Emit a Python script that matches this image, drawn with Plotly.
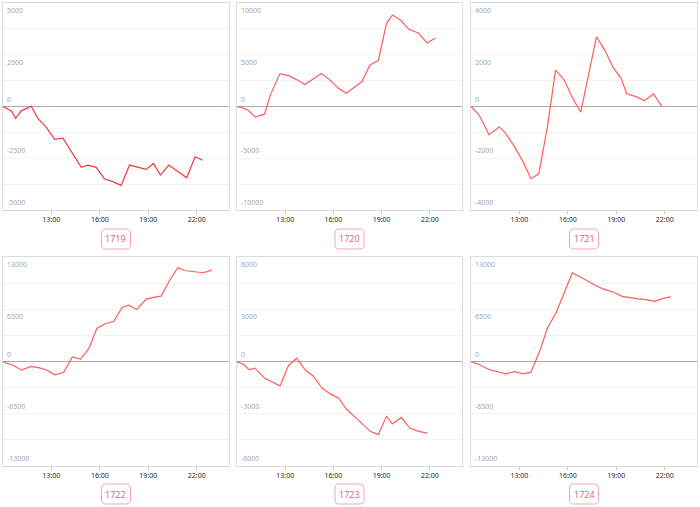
import plotly.graph_objects as go

names = ["1719", "1720", "1721", "1722", "1723", "1724"]
limits = [5000, 10000, 4000, 13000, 6000, 13000]
tick_vals = [13, 16, 19, 22]
tick_text = ["13:00", "16:00", "19:00", "22:00"]

# times in decimal hours
t1719 = [10.0, 10.52, 10.78, 11.13, 11.75, 12.16, 12.68, 13.2, 13.71, 14.85, 15.26, 15.77, 16.29,
         16.8, 17.32, 17.84, 18.87, 19.32, 19.75, 20.27, 21.38, 21.9, 22.37]
v1719 = [0, -210, -580, -210, 10, -580, -1010, -1590, -1530, -2940, -2830, -2940, -3500,
         -3630, -3810, -2830, -3040, -2750, -3310, -2830, -3440, -2430, -2600]

t1720 = [10.0, 10.41, 10.72, 11.13, 11.71, 12.1, 12.67, 13.19, 13.7, 14.22, 15.25, 15.76, 16.28,
         16.79, 17.3, 17.78, 18.27, 18.79, 19.3, 19.67, 20.19, 20.7, 21.28, 21.83, 22.35]
v1720 = [0, -160, -390, -1030, -740, 1220, 3180, 2990, 2600, 2120, 3180, 2600, 1800,
         1290, 1860, 2410, 4020, 4440, 8010, 8840, 8330, 7460, 7110, 6140, 6620]

t1721 = [10.0, 10.49, 10.76, 11.11, 11.75, 12.14, 12.68, 13.24, 13.71, 14.2, 14.74, 15.24, 15.77,
         16.27, 16.8, 17.3, 17.77, 18.29, 18.8, 19.3, 19.65, 20.23, 20.74, 21.3, 21.83]
v1721 = [0, -320, -640, -1090, -790, -1030, -1540, -2150, -2790, -2600, -770, 1410, 1030,
         360, -220, 1320, 2690, 2180, 1510, 1090, 490, 380, 220, 490, 0]

t1722 = [10.0, 10.66, 11.13, 11.75, 12.27, 12.74, 13.2, 13.75, 14.29, 14.8, 15.32, 15.81, 16.35,
         16.85, 17.38, 17.79, 18.29, 18.87, 19.32, 19.79, 20.31, 20.82, 21.34, 22.41, 22.95]
v1722 = [-40, -500, -1080, -620, -790, -1080, -1660, -1370, 580, 290, 1620, 4110, 4730,
         4980, 6720, 7010, 6470, 7760, 7970, 8130, 10040, 11660, 11290, 11040, 11370]

t1723 = [10.0, 10.45, 10.76, 11.11, 11.75, 12.14, 12.68, 13.2, 13.71, 14.27, 14.74, 15.3, 15.81,
         16.33, 16.8, 17.3, 17.83, 18.29, 18.79, 19.3, 19.67, 20.23, 20.74, 21.32, 21.85]
v1723 = [-20, -190, -480, -380, -980, -1150, -1400, -230, 190, -520, -830, -1540, -1860,
         -2110, -2730, -3150, -3590, -4010, -4200, -3150, -3590, -3210, -3820, -4010, -4110]

t1724 = [10.0, 10.49, 11.11, 11.69, 12.16, 12.68, 13.24, 13.71, 14.27, 14.74, 15.26, 15.77, 16.27,
         16.78, 17.3, 17.81, 18.29, 18.8, 19.36, 19.84, 20.35, 20.86, 21.38, 21.9, 22.37]
v1724 = [0, -370, -1000, -1330, -1540, -1250, -1540, -1330, 1370, 4200, 6030, 8530, 11020,
         10520, 9900, 9360, 8940, 8650, 8110, 7940, 7780, 7700, 7490, 7860, 8030]

times = [t1719, t1720, t1721, t1722, t1723, t1724]
values = [v1719, v1720, v1721, v1722, v1723, v1724]
line_colors = ["#ec3a3f", "#ff5c5c", "#ff5c5c", "#ff5c5c", "#ff5c5c", "#ff5c5c"]

W, H = 700, 507
col_px = [(3, 229), (237, 462), (471, 697)]
row_px = [(3, 210), (257, 466)]
badge_y = [239, 494]

fig = go.Figure()
layout = dict(width=W, height=H, margin=dict(l=0, r=0, t=0, b=0),
              paper_bgcolor="white", plot_bgcolor="white", showlegend=False,
              font=dict(family="Noto Sans, Open Sans, sans-serif"))
annotations = []
shapes = []

for i in range(6):
    r, c = divmod(i, 3)
    sfx = "" if i == 0 else str(i + 1)
    xa, ya = "x" + sfx, "y" + sfx
    fig.add_trace(go.Scatter(x=times[i], y=values[i], mode="lines", xaxis=xa, yaxis=ya,
                             line=dict(color=line_colors[i], width=1.2), hoverinfo="skip"))
    x0, x1 = col_px[c]
    y0, y1 = row_px[r]
    L = limits[i]
    layout["xaxis" + sfx] = dict(domain=[x0 / W, x1 / W], anchor=ya, range=[10, 24],
                                 tickvals=tick_vals, ticktext=tick_text, showgrid=False,
                                 zeroline=False, showline=True, mirror=True, linecolor="#dcdcdc",
                                 linewidth=1, ticks="outside", ticklen=3, tickcolor="#cccccc",
                                 tickfont=dict(size=7, color="#2a2a2a"), fixedrange=True)
    grid_vals = [L * k / 4 for k in range(-4, 5)]
    layout["yaxis" + sfx] = dict(domain=[1 - y1 / H, 1 - y0 / H], anchor=xa, range=[-L, L],
                                 tickvals=grid_vals, showticklabels=False, showgrid=True,
                                 gridcolor="#f3f3f3", gridwidth=1, zeroline=True,
                                 zerolinecolor="#aaaaaa", zerolinewidth=1, showline=True,
                                 mirror=True, linecolor="#dcdcdc", linewidth=1, fixedrange=True)
    label_vals = [L, L // 2, 0, -L // 2, -L]
    for k, lv in enumerate(label_vals):
        annotations.append(dict(xref=xa + " domain", yref=ya, x=0, y=lv, xanchor="left",
                                yanchor="top" if k < 2 else "bottom",
                                yshift=-1 if k < 2 else 1, xshift=2, showarrow=False,
                                text=str(lv), font=dict(size=7, color="#a8a8a8")))
    # badge
    cx = (x0 + x1) / 2
    cy = badge_y[r]
    bw, bh, rad = 29, 20, 4
    bx0, bx1 = cx - bw / 2, cx + bw / 2
    by0, by1 = cy - bh / 2, cy + bh / 2

    def P(px, py):
        return f"{px / W:.5f},{1 - py / H:.5f}"

    path = (f"M {P(bx0 + rad, by0)} L {P(bx1 - rad, by0)} Q {P(bx1, by0)} {P(bx1, by0 + rad)} "
            f"L {P(bx1, by1 - rad)} Q {P(bx1, by1)} {P(bx1 - rad, by1)} "
            f"L {P(bx0 + rad, by1)} Q {P(bx0, by1)} {P(bx0, by1 - rad)} "
            f"L {P(bx0, by0 + rad)} Q {P(bx0, by0)} {P(bx0 + rad, by0)} Z")
    shapes.append(dict(type="path", xref="paper", yref="paper", path=path,
                       line=dict(color="#f7a3bd", width=1), fillcolor="white"))
    annotations.append(dict(xref="paper", yref="paper", x=cx / W, y=1 - cy / H,
                            xanchor="center", yanchor="middle", showarrow=False,
                            text=names[i], font=dict(size=9, color="#ef5f8a")))

layout["annotations"] = annotations
layout["shapes"] = shapes
fig.update_layout(**layout)
fig.write_html("out.html", config={"displayModeBar": False},
               post_script="document.body.style.margin='0';document.body.style.padding='0';"
                           "document.body.style.overflow='hidden';")
